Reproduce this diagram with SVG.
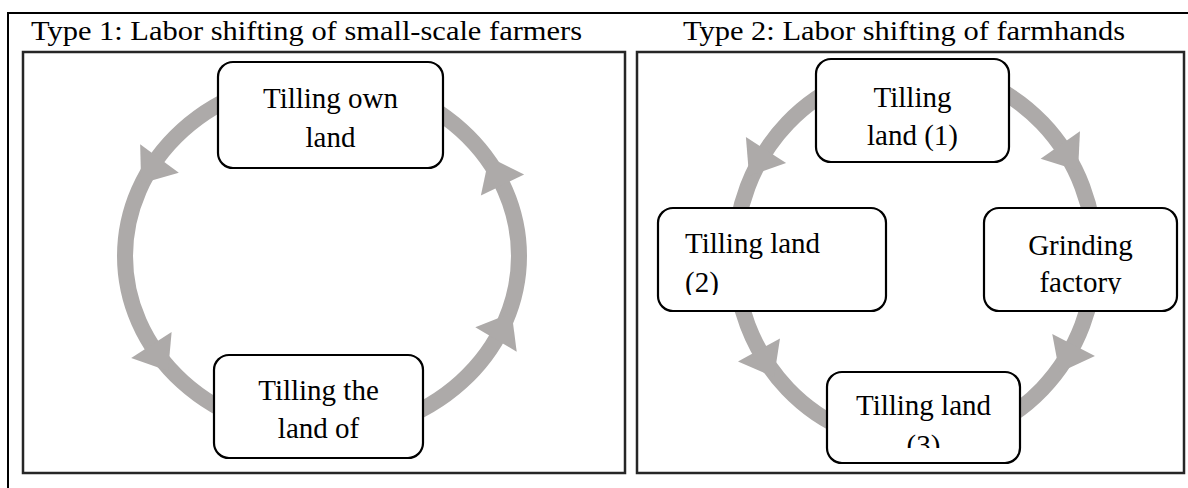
<svg xmlns="http://www.w3.org/2000/svg" width="1188" height="488" viewBox="0 0 1188 488">
<style>
.frame{fill:none;stroke:#000;stroke-width:2}
.panel{fill:none;stroke:#262626;stroke-width:2.5}
.title{font-family:"Liberation Serif","Times New Roman",serif;font-size:28px;fill:#000}
.node rect{fill:#fff;stroke:#000;stroke-width:2.2}
.node text{font-family:"Liberation Serif","Times New Roman",serif;font-size:29px;fill:#000}
.c{text-anchor:middle}
.arc{fill:none;stroke:#adaaa9;stroke-width:16}
.ah{fill:#adaaa9}
</style>
<defs>
<polygon id="ah" points="31,0 0,-24 0,24"/>
<clipPath id="clip2"><rect x="658" y="208" width="228" height="87"/></clipPath>
<clipPath id="clipG"><rect x="984" y="208" width="193" height="86"/></clipPath>
<clipPath id="clip3"><rect x="827" y="372" width="193" height="76"/></clipPath>
</defs>
<rect class="frame" x="8" y="13" width="1200" height="500"/>
<text class="title" x="31" y="40" textLength="551" lengthAdjust="spacingAndGlyphs">Type 1: Labor shifting of small-scale farmers</text>
<text class="title" x="683" y="40" textLength="442" lengthAdjust="spacingAndGlyphs">Type 2: Labor shifting of farmhands</text>
<rect class="panel" x="23" y="52" width="602" height="421"/>
<rect class="panel" x="637" y="52" width="547" height="421"/>
<g id="connectors">
<ellipse class="arc" cx="322" cy="256" rx="197" ry="178"/>
<ellipse class="arc" cx="915" cy="256" rx="180" ry="188"/>
<use href="#ah" class="ah" transform="translate(159.5,158.5) rotate(126.3)"/>
<use href="#ah" class="ah" transform="translate(151.4,345) rotate(57.4)"/>
<use href="#ah" class="ah" transform="translate(496,339.5) rotate(-59.6)"/>
<use href="#ah" class="ah" transform="translate(502.5,185) rotate(-115.7)"/>
<use href="#ah" class="ah" transform="translate(766,150) rotate(123.1)"/>
<use href="#ah" class="ah" transform="translate(759,350) rotate(61.1)"/>
<use href="#ah" class="ah" transform="translate(1060.3,145) rotate(55)"/>
<use href="#ah" class="ah" transform="translate(1073.6,345) rotate(117.2)"/>
</g>
<g id="node-own-land" class="node">
<rect x="218" y="62" width="225" height="106" rx="15"/>
<text class="c" x="330.5" y="108">Tilling own</text>
<text class="c" x="330.5" y="147">land</text>
</g>
<g id="node-land-of" class="node">
<rect x="214" y="355" width="209" height="103" rx="15"/>
<text class="c" x="318.5" y="400">Tilling the</text>
<text class="c" x="318.5" y="438">land of</text>
</g>
<g id="node-land1" class="node">
<rect x="816" y="59" width="193" height="103" rx="15"/>
<text class="c" x="912.5" y="107">Tilling</text>
<text class="c" x="912.5" y="145">land (1)</text>
</g>
<g id="node-land2" class="node">
<rect x="658" y="208" width="228" height="103" rx="15"/>
<g clip-path="url(#clip2)">
<text x="685" y="253">Tilling land</text>
<text x="685" y="292">(2)</text>
</g>
</g>
<g id="node-grinding" class="node">
<rect x="984" y="208" width="193" height="103" rx="15"/>
<g clip-path="url(#clipG)">
<text class="c" x="1080.5" y="255">Grinding</text>
<text class="c" x="1080.5" y="292">factory</text>
</g>
</g>
<g id="node-land3" class="node">
<rect x="827" y="372" width="193" height="91" rx="15"/>
<g clip-path="url(#clip3)">
<text class="c" x="923.5" y="415">Tilling land</text>
<text class="c" x="923.5" y="455">(3)</text>
</g>
</g>
</svg>
